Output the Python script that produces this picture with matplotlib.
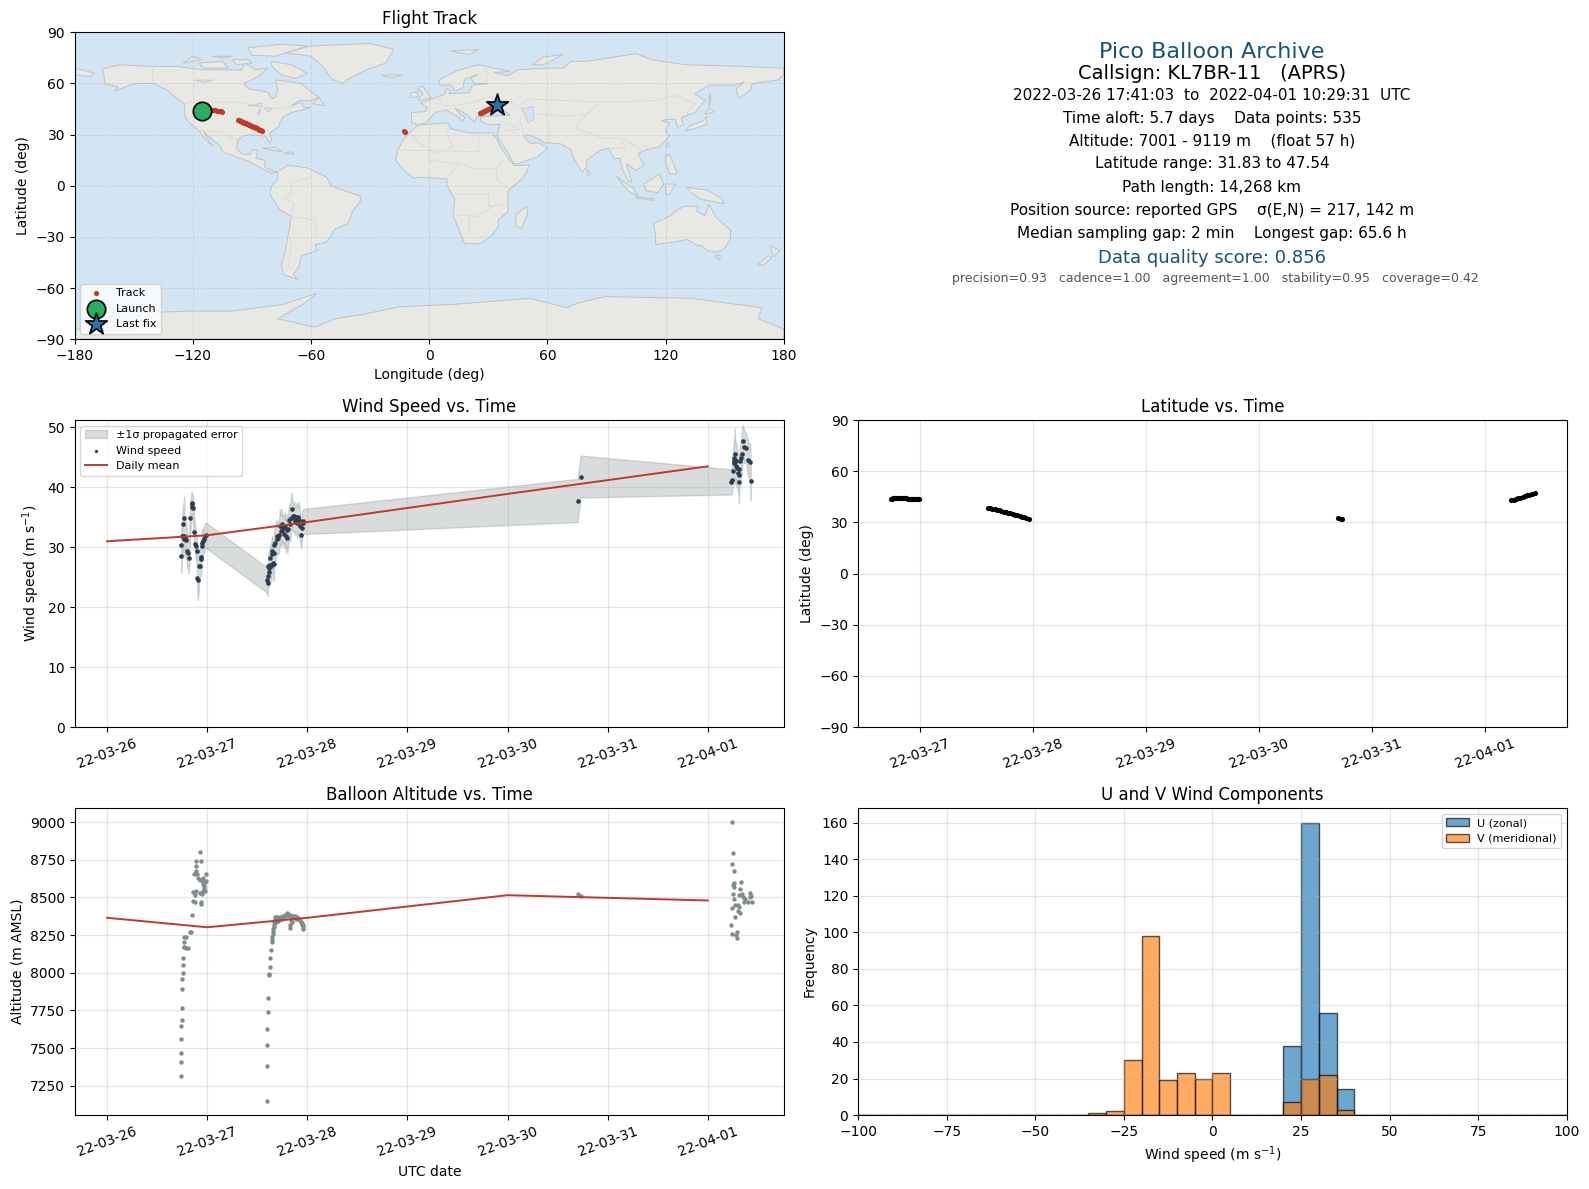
"""
Panel resumen de un vuelo pico balloon (KL7BR-11).
Valores leidos a ojo del grafico original.
"""

from datetime import datetime

import matplotlib
matplotlib.use("Agg")
import matplotlib.dates as mdates
import matplotlib.pyplot as plt
import numpy as np

T0 = mdates.date2num(datetime(2022, 3, 26))

# ---------------------------------------------------------------------------
# Datos: viento (dias desde 03-26, m/s, sigma)
# ---------------------------------------------------------------------------
wind_t1 = [.74, .74, .75, .76, .76, .765, .77, .773, .78, .79, .80, .81, .817, .83, .845, .85, .853,
           .858, .87, .883, .89, .897, .903, .907, .92, .925, .937, .94, .947, .953, .96, .968, .977, .987]
wind_v1 = [30.3, 28.6, 31.9, 33.8, 31.8, 31.3, 34.9, 31.8, 31.5, 31.2, 29.3, 29.0, 28.2, 34.8, 37.4, 36.7, 37.2,
           36.5, 32.6, 30.6, 30.2, 29.3, 24.9, 24.6, 26.9, 26.9, 28.3, 28.0, 30.7, 30.2, 31.0, 31.3, 31.8, 32.0]
wind_s1 = [3.0, 2.9, 3.1, 3.6, 3.0, 3.0, 3.6, 3.1, 2.9, 2.8, 2.7, 2.6, 2.6, 2.8, 1.9, 2.0, 1.6,
           2.0, 2.4, 2.3, 2.5, 2.6, 3.0, 3.4, 2.9, 2.6, 2.5, 2.4, 2.3, 2.3, 2.2, 2.2, 2.1, 2.1]

wind_t2 = [1.60, 1.603, 1.607, 1.61, 1.613, 1.617, 1.623, 1.63, 1.637, 1.643, 1.65, 1.657, 1.663, 1.667, 1.67,
           1.68, 1.693, 1.70, 1.71, 1.72, 1.727, 1.735, 1.743, 1.75, 1.76, 1.77, 1.777, 1.787, 1.793, 1.80,
           1.81, 1.82, 1.827, 1.835, 1.843, 1.853, 1.86, 1.87, 1.877, 1.887, 1.893, 1.90, 1.91, 1.92, 1.927,
           1.937, 1.943, 1.953, 1.96]
wind_v2 = [24.5, 24.1, 25.2, 26.8, 25.8, 26.6, 27.0, 28.2, 26.8, 28.8, 29.3, 27.3, 29.0, 27.2, 30.3,
           30.7, 31.8, 31.3, 31.5, 32.1, 33.5, 32.7, 33.8, 32.8, 33.2, 32.2, 33.5, 31.8, 32.9, 31.6,
           33.0, 34.6, 33.8, 34.9, 36.4, 35.2, 34.9, 35.2, 34.3, 35.0, 34.6, 34.0, 35.0, 34.6, 33.5,
           32.1, 33.2, 34.1, 34.3]
wind_s2 = [2.1, 2.2, 2.2, 2.3, 2.4, 2.4, 2.5, 2.5, 2.6, 2.6, 2.6, 2.7, 2.7, 2.8, 2.7,
           2.8, 2.8, 2.6, 2.6, 2.8, 2.9, 2.6, 2.6, 2.4, 2.4, 2.4, 2.5, 2.6, 2.6, 2.6,
           2.6, 2.8, 2.9, 3.1, 2.8, 2.5, 2.3, 2.4, 2.3, 2.4, 2.5, 2.5, 2.6, 2.4, 2.5,
           2.3, 2.2, 2.1, 2.1]

wind_t3 = [4.70, 4.73]
wind_v3 = [37.8, 41.8]
wind_s3 = [3.6, 3.5]

wind_t4 = [6.237, 6.24, 6.25, 6.263, 6.265, 6.267, 6.27, 6.275, 6.283, 6.285, 6.293, 6.30, 6.31, 6.312, 6.317,
           6.325, 6.333, 6.34, 6.35, 6.363, 6.383, 6.407, 6.423, 6.43]
wind_v4 = [40.9, 41.3, 42.8, 44.9, 44.4, 44.1, 45.6, 44.5, 43.6, 44.4, 43.2, 42.4, 42.0, 40.9, 43.0,
           44.4, 44.9, 45.5, 47.8, 46.8, 46.6, 44.5, 44.3, 41.0]
wind_s4 = [2.1, 2.2, 2.5, 3.2, 3.4, 3.6, 4.2, 3.5, 3.4, 3.0, 3.0, 3.2, 3.4, 3.6, 3.0,
           2.9, 3.0, 3.4, 2.6, 2.8, 2.4, 3.0, 3.0, 3.2]

daily_t = [0, 1, 2, 4, 6]
daily_wind = [31.0, 32.0, 34.2, 38.9, 43.5]
daily_alt = [8365, 8302, 8365, 8515, 8480]

# ---------------------------------------------------------------------------
# Altitud
# ---------------------------------------------------------------------------
alt_t1 = [.74, .74, .74, .74, .74, .75, .75, .75, .75, .76, .76, .76, .77, .773, .767, .787, .773, .793, .81,
          .827, .84, .85, .86, .877, .86, .887, .883, .943, .937, .927, .96, .977, .967, .927, .96, .987, .91,
          .90, .867, .893, .89, .893, .94, .99, .93, .963, .97, .955, .945, .975]
alt_v1 = [7316, 7409, 7469, 7562, 7649, 7689, 7769, 7889, 7956, 7996, 8049, 8096, 8173, 8207, 8236, 8240, 8173, 8167, 8167,
          8273, 8273, 8382, 8478, 8473, 8536, 8540, 8518, 8473, 8458, 8529, 8540, 8540, 8573, 8618, 8629, 8611, 8629,
          8658, 8658, 8673, 8707, 8742, 8742, 8656, 8802, 8590, 8560, 8600, 8525, 8600]

alt_t2 = [1.60, 1.60, 1.60, 1.60, 1.61, 1.61, 1.617, 1.617, 1.623, 1.63, 1.637, 1.643, 1.647, 1.65, 1.654, 1.657,
          1.66, 1.663, 1.667, 1.67, 1.673, 1.68, 1.685, 1.69, 1.693, 1.70, 1.705, 1.71, 1.72, 1.727, 1.735, 1.743,
          1.75, 1.76, 1.77, 1.777, 1.785, 1.793, 1.80, 1.81, 1.82, 1.827, 1.827, 1.83, 1.835, 1.843, 1.85, 1.86,
          1.87, 1.877, 1.885, 1.893, 1.90, 1.91, 1.92, 1.927, 1.935, 1.943, 1.95, 1.953, 1.96, 1.96]
alt_v2 = [7148, 7382, 7522, 7629, 7736, 7829, 7984, 7990, 8036, 8096, 8151, 8207, 8215, 8240, 8255, 8273,
          8290, 8307, 8320, 8340, 8355, 8373, 8340, 8370, 8350, 8373, 8345, 8360, 8350, 8370, 8365, 8373,
          8360, 8380, 8375, 8385, 8380, 8400, 8385, 8390, 8380, 8382, 8320, 8300, 8350, 8380, 8340, 8375,
          8370, 8375, 8360, 8370, 8365, 8360, 8355, 8350, 8340, 8330, 8315, 8305, 8290, 8320]

alt_t3 = [4.70, 4.73]
alt_v3 = [8520, 8508]

alt_t4 = [6.24, 6.25, 6.24, 6.26, 6.33, 6.26, 6.25, 6.26, 6.32, 6.25, 6.26, 6.317, 6.34, 6.35, 6.427, 6.427,
          6.433, 6.36, 6.377, 6.40, 6.44, 6.24, 6.277, 6.30, 6.317, 6.307, 6.323, 6.27, 6.23, 6.24, 6.29, 6.283, 6.29]
alt_v4 = [9000, 8793, 8720, 8673, 8602, 8593, 8580, 8567, 8553, 8520, 8489, 8516, 8522, 8504, 8527, 8500,
          8510, 8471, 8487, 8467, 8473, 8433, 8453, 8449, 8438, 8411, 8398, 8371, 8320, 8260, 8271, 8253, 8229]

# ---------------------------------------------------------------------------
# Latitud
# ---------------------------------------------------------------------------
lat_t1 = [.74, .75, .76, .77, .78, .79, .80, .81, .82, .83, .84, .85, .86, .87, .88, .89, .90, .91, .92, .93, .94, .95, .96, .97, .98, .99]
lat_v1 = [43.9, 44.0, 44.1, 44.2, 44.3, 44.4, 44.4, 44.4, 44.4, 44.3, 44.3, 44.2, 44.2, 44.1, 44.1, 44.0, 43.9, 43.8, 43.7, 43.6, 43.6, 43.5, 43.5, 43.5, 43.5, 43.5]
lat_t2 = [1.60, 1.62, 1.64, 1.66, 1.68, 1.70, 1.72, 1.74, 1.76, 1.78, 1.80, 1.82, 1.84, 1.86, 1.88, 1.90, 1.92, 1.94, 1.96]
lat_v2 = [38.7, 38.4, 38.1, 37.7, 37.4, 37.1, 36.8, 36.4, 36.1, 35.7, 35.4, 35.0, 34.6, 34.3, 33.9, 33.5, 33.1, 32.7, 32.3]
lat_t3 = [4.70, 4.72, 4.73]
lat_v3 = [32.4, 32.0, 31.83]
lat_t4 = [6.23, 6.25, 6.27, 6.29, 6.31, 6.33, 6.35, 6.37, 6.39, 6.41, 6.437]
lat_v4 = [43.0, 43.4, 43.8, 44.2, 44.6, 45.0, 45.4, 45.9, 46.4, 46.9, 47.54]

# ---------------------------------------------------------------------------
# Traza en el mapa
# ---------------------------------------------------------------------------
track_lon = [-115.2, -114, -113, -112, -111, -110, -109, -108, -107, -106, -105.5,
             -97, -96.5, -96, -95.5, -95, -94.5, -94, -93.5, -93, -92.5, -92, -91.5, -91, -90.5, -90, -89.5,
             -89, -88.5, -88, -87.5, -87, -86.5, -86, -85.5, -85,
             -12.8, -12.5,
             26, 26.5, 27, 27.5, 28, 28.5, 29, 29.5, 30, 30.5, 31, 31.5, 32, 32.5, 33, 33.7, 34.5]
track_lat = [43.6, 44.0, 44.3, 44.4, 44.4, 44.4, 44.3, 44.0, 43.8, 43.6, 43.5,
             38.6, 38.3, 38.1, 37.8, 37.5, 37.3, 37.0, 36.8, 36.6, 36.3, 36.0, 35.8, 35.5, 35.2, 35.0, 34.7,
             34.5, 34.2, 33.9, 33.6, 33.3, 33.0, 32.8, 32.5, 32.2,
             32.1, 31.83,
             42.5, 42.8, 43.1, 43.4, 43.7, 44.0, 44.3, 44.6, 45.0, 45.3, 45.6, 45.9, 46.2, 46.5, 46.7, 47.1, 47.54]
launch = (-115.2, 43.6)
last_fix = (34.5, 47.54)

# ---------------------------------------------------------------------------
# Histograma
# ---------------------------------------------------------------------------
bin_edges = np.arange(-100, 105, 5)
u_left = [20, 25, 30, 35]
u_count = [38, 160, 56, 14]
v_left = [-35, -30, -25, -20, -15, -10, -5, 0, 20, 25, 30, 35]
v_count = [1, 2, 30, 98, 19, 23, 20, 23, 7, 20, 22, 3]

# ---------------------------------------------------------------------------
# Mapa del mundo (contornos gruesos, lon/lat)
# ---------------------------------------------------------------------------
land_polys = [
    # Norteamerica
    [(-166, 68.5), (-157, 71), (-140, 70), (-128, 70), (-115, 68), (-108, 68), (-95, 68), (-94, 72), (-88, 68),
     (-82, 69), (-87, 64), (-94, 60), (-92, 57), (-82, 55), (-80, 51), (-78, 52), (-77, 56), (-78, 62), (-70, 61),
     (-65, 60), (-60, 55), (-56, 52), (-60, 50), (-66, 50), (-70, 47), (-65, 49), (-64, 46), (-60, 46), (-66, 44),
     (-70, 43), (-74, 40.5), (-76, 37), (-76, 35), (-81, 31), (-80, 27), (-81, 25), (-83, 29), (-90, 30),
     (-94, 29.5), (-97, 27), (-98, 22), (-95, 18.5), (-91, 18.5), (-90, 21), (-87, 21), (-88, 16), (-83.5, 15),
     (-83.5, 11), (-80, 9), (-77, 8), (-80, 7.5), (-85, 10), (-92, 14.5), (-96, 16), (-105, 20), (-106, 23),
     (-112.5, 29.5), (-114.5, 31.5), (-110, 23), (-115, 29), (-117, 32.5), (-122, 37), (-124.5, 42), (-124, 48),
     (-128, 51), (-133, 56), (-140, 60), (-148, 60), (-152, 59), (-160, 55.5), (-158, 58), (-165, 60), (-165, 64)],
    # Groenlandia e islas articas
    [(-73, 78), (-60, 82), (-30, 83.5), (-18, 80), (-22, 72), (-32, 68), (-42, 62), (-44, 60), (-50, 63), (-54, 70), (-60, 76)],
    [(-80, 73), (-70, 71), (-62, 66), (-68, 63), (-75, 65), (-80, 70)],
    [(-90, 76.5), (-78, 76), (-62, 82), (-75, 83), (-92, 81)],
    [(-117, 72), (-105, 73), (-102, 69), (-115, 69)],
    [(-125, 72), (-116, 74), (-120, 76)],
    [(-100, 74), (-92, 74), (-90, 72), (-98, 71)],
    [(-110, 76), (-100, 76), (-105, 75)],
    [(-59, 48), (-53, 47), (-56, 51.5)],
    [(-85, 22), (-75, 20), (-78, 22.5)],
    [(-74, 19), (-68.5, 18.5), (-70, 20)],
    # Sudamerica
    [(-77, 8), (-72, 12), (-62, 10.5), (-52, 5), (-50, 0), (-44, -2.5), (-35, -6), (-35, -9), (-39, -15), (-41, -22),
     (-48, -25.5), (-52, -33), (-58, -34.5), (-57, -38), (-65, -41), (-66, -47), (-69, -52), (-67, -55), (-74, -52),
     (-75, -46), (-73, -38), (-70, -18), (-76, -14), (-81, -5), (-80, 0), (-77, 4)],
    # Africa
    [(-6, 35.5), (10, 37), (11, 33.5), (20, 31), (32, 31), (34, 28), (37, 21), (43, 12), (51, 12), (48, 5), (40, -3),
     (40, -15), (35, -20), (35, -24), (32, -29), (26, -34), (18, -34), (12, -17), (13, -8), (9, 0), (9, 4), (-4, 5),
     (-8, 4.5), (-13, 9), (-17, 14.7), (-16, 21), (-13, 27.5), (-9, 32)],
    [(49.5, -12), (50, -16), (47, -25), (44, -24), (44, -17)],
    # Eurasia
    [(-9, 37), (-9, 43), (-2, 43.5), (-1, 46), (-4.5, 48.5), (2, 51), (8, 54), (8.5, 57), (11, 56), (10, 54), (20, 54.5),
     (22, 59), (30, 60), (23, 60), (21, 63), (25, 65.5), (18, 62.5), (17, 57.5), (13, 55.5), (11, 59), (5, 59), (5, 62),
     (14, 67.5), (25, 71), (41, 67), (33, 66.5), (40, 64.5), (45, 68), (60, 69), (68, 69), (72, 73), (80, 73),
     (105, 77.5), (113, 74), (130, 71), (160, 70), (180, 69), (180, 65), (177, 62), (164, 60), (163, 56), (157, 51),
     (156, 57), (160, 61), (155, 59), (142, 59), (135, 54), (140, 50), (135, 43), (128, 40), (129, 35.5), (126, 34.5),
     (125, 39), (121, 39), (118, 38), (122, 37), (120, 32), (122, 29), (117, 23), (110, 21), (106, 19), (109, 12),
     (105, 9), (100, 13), (103, 2), (101, 3), (98, 10), (97, 16), (94, 16), (91, 22), (87, 21), (80, 15), (80, 11),
     (77.5, 8), (73, 17), (72, 21), (67, 24.5), (58, 25.5), (56.5, 27), (50, 30), (48, 29), (51, 25), (56, 25), (60, 22),
     (55, 17), (45, 13), (43, 13), (39, 21), (35, 28), (34.5, 31), (36, 36), (30, 36), (26, 38), (26, 40.5), (41, 41.5),
     (37, 45), (33, 45), (33, 46), (29, 45), (28, 41), (24, 40.5), (23, 37), (19, 42), (13, 45.5), (16, 41.5), (18.5, 40),
     (16.5, 38), (15.5, 40), (12, 42), (8.5, 44.5), (3, 43), (0, 39), (-2, 36.7), (-5.5, 36)],
    [(-180, 65), (-172, 64), (-170, 66), (-180, 69)],
    [(-5, 50), (1, 51.5), (-2, 56), (-3, 58.5), (-6, 57), (-3, 54), (-5, 52)],
    [(-10, 52), (-6, 52), (-6, 55), (-9, 54.5)],
    [(-24, 65), (-14, 65), (-18, 63.5), (-22, 64)],
    [(11, 79), (25, 80), (20, 77)],
    [(52, 71), (58, 71), (68, 77), (58, 75.5)],
    # Asia oriental e insular
    [(130, 32), (136, 34), (141, 36), (141, 41), (139, 38), (132, 35)],
    [(140, 42), (145, 43.5), (142, 45.5)],
    [(142, 46), (143, 50), (142.5, 54), (142, 50)],
    [(120, 23), (121, 25), (122, 24.5), (121, 22)],
    [(120, 18), (122, 18), (124, 13), (126, 7), (122, 7), (120, 14)],
    [(109, 1), (117, 7), (119, 1), (116, -4), (110, -3)],
    [(95, 5.5), (104, -2), (106, -6), (101, -3)],
    [(105, -6.5), (114, -7.5), (114, -8.5), (106, -7.5)],
    [(120, 1), (125, 1), (122, -5), (120, -5)],
    [(131, -1), (141, -2.5), (148, -7), (150, -10.5), (143, -9), (138, -8), (133, -4)],
    [(80, 9.5), (82, 7), (80.5, 6)],
    # Oceania
    [(114, -22), (122, -18), (126, -14), (130, -12), (136, -12), (136, -15), (140, -17.5), (142, -11), (146, -19),
     (153, -26), (153, -31), (150, -37), (146, -39), (141, -38), (138, -35), (136, -35), (131, -31.5), (124, -33),
     (115, -34.5), (115, -30)],
    [(145, -41), (148, -41), (147, -43.5)],
    [(173, -35), (178, -38), (175, -41.5), (174, -39)],
    [(172, -41), (174, -42), (170, -46.5), (167, -46)],
    # Antartida
    [(-180, -84), (-152, -85), (-146, -74.5), (-121, -73.5), (-100, -73.5), (-74, -69.5), (-57, -63), (-62, -68), (-77, -78),
     (-58, -83), (-48, -78), (-34, -75.5), (-15, -71), (13, -69.5), (51, -66), (70, -71.5), (75, -69), (89, -65),
     (133, -66), (169, -71.5), (167, -78), (180, -84), (180, -90), (-180, -90)],
]
lakes = [
    [(47, 45), (53, 46.5), (53, 39), (50, 37), (49, 41)],
    [(-92, 47), (-85, 48.5), (-85, 46.5)],
    [(-87.5, 42), (-85.5, 45.5), (-86, 42)],
    [(-84, 46), (-80, 45), (-82, 43)],
    [(-119, 62), (-110, 62), (-114, 60.5)],
]
borders = [
    [(-123, 49), (-95, 49), (-83, 46), (-75, 45), (-67, 47)],
    [(-117, 32.5), (-106, 31.5), (-97, 26)],
    [(-141, 70), (-141, 60)],
    [(-70, -18), (-58, -20), (-57, -30)],
    [(-70, -18), (-69, -10), (-74, -7), (-70, -4), (-70, 2), (-60, 5)],
    [(-70, -33), (-72, -50)],
    [(-17, 21), (25, 20), (25, 31)],
    [(10, 37), (9, 30), (12, 23), (4, 19), (-5, 25), (-9, 30)],
    [(0, 15), (15, 13), (24, 10), (34, 10), (37, 15)],
    [(9, 4), (15, 13)],
    [(12, -5), (30, -5)],
    [(12, -17), (24, -18), (34, -11)],
    [(20, -28), (20, -18)],
    [(30, -5), (30, -12), (40, -11)],
    [(34, 10), (34, 4), (41, -2)],
    [(5, 51), (7, 47), (13, 47), (22, 49), (30, 52), (40, 50), (48, 45)],
    [(28, 70), (30, 60)],
    [(53, 42), (70, 41), (80, 42), (87, 49), (50, 51), (47, 48)],
    [(87, 49), (115, 50), (125, 53), (135, 48), (131, 43)],
    [(80, 42), (74, 34), (88, 28), (97, 28), (100, 22), (92, 22)],
    [(61, 36), (61, 25)],
    [(46, 39), (48, 30)],
    [(35, 32), (46, 33), (39, 37)],
    [(98, 28), (108, 21)],
]

# ---------------------------------------------------------------------------
# Texto del panel de informacion
# ---------------------------------------------------------------------------
info_lines = [
    "Pico Balloon Archive",
    "Callsign: KL7BR-11   (APRS)",
    "2022-03-26 17:41:03  to  2022-04-01 10:29:31  UTC",
    "Time aloft: 5.7 days    Data points: 535",
    "Altitude: 7001 - 9119 m    (float 57 h)",
    "Latitude range: 31.83 to 47.54",
    "Path length: 14,268 km",
    "Position source: reported GPS    σ(E,N) = 217, 142 m",
    "Median sampling gap: 2 min    Longest gap: 65.6 h",
    "Data quality score: 0.856",
    "precision=0.93   cadence=1.00   agreement=1.00   stability=0.95   coverage=0.42",
]
info_x = [.7627, .7627, .7627, .7627, .7627, .7627, .7627, .7627, .7627, .7627, .7651]
info_y = [.9566, .9379, .9200, .9004, .8817, .8621, .8425, .8229, .8033, .7828, .7658]
info_size = [16, 14, 11, 11, 11, 11, 11, 11, 11, 13, 9]
info_color = ["#1a5276", "black", "black", "black", "black", "black", "black", "black", "black", "#1a5276", "#555555"]

# ---------------------------------------------------------------------------
# Figura
# ---------------------------------------------------------------------------
RED = "#c0392b"
GRID = dict(color="#b0b0b0", linewidth=0.9, alpha=0.32)

fig = plt.figure(figsize=(15.89, 11.89), dpi=100)
ax_map = fig.add_axes([.0471, .7147, .4461, .2581])
ax_wind = fig.add_axes([.0471, .3885, .4461, .2581])
ax_lat = fig.add_axes([.5400, .3885, .4461, .2581])
ax_alt = fig.add_axes([.0471, .0622, .4461, .2581])
ax_hist = fig.add_axes([.5400, .0622, .4461, .2581])

# Mapa
ax_map.set_facecolor("#d3e5f2")
for poly in land_polys:
    ax_map.fill(*zip(*poly), facecolor="#e8e8e4", edgecolor="#bcc4c8", linewidth=0.7, zorder=1)
for poly in lakes:
    ax_map.fill(*zip(*poly), facecolor="#d3e5f2", edgecolor="#bcc4c8", linewidth=0.5, zorder=1.1)
for line in borders:
    ax_map.plot(*zip(*line), color="#d8dad8", linewidth=0.6, zorder=1.2)
ax_map.grid(True, color="#a0a0a0", linewidth=0.5, alpha=0.35, linestyle="--", zorder=1.5)
ax_map.scatter(track_lon, track_lat, s=14, color=RED, linewidths=0, zorder=3, label="Track")
ax_map.scatter(*launch, s=175, color="#27ae60", edgecolors="black", linewidths=1.2, zorder=4, label="Launch")
ax_map.scatter(*last_fix, s=270, marker="*", color="#2176ae", edgecolors="black", linewidths=1.2, zorder=5, label="Last fix")
ax_map.set_xlim(-180, 180)
ax_map.set_ylim(-90, 90)
ax_map.set_xticks(np.arange(-180, 181, 60))
ax_map.set_yticks(np.arange(-90, 91, 30))
ax_map.set_xlabel("Longitude (deg)")
ax_map.set_ylabel("Latitude (deg)")
ax_map.set_title("Flight Track")
ax_map.legend(loc="lower left", fontsize=8)

# Viento
wind_t = np.array(wind_t1 + wind_t2 + wind_t3 + wind_t4) + T0
wind_v = np.array(wind_v1 + wind_v2 + wind_v3 + wind_v4)
wind_s = np.array(wind_s1 + wind_s2 + wind_s3 + wind_s4)
ax_wind.fill_between(wind_t, wind_v - wind_s, wind_v + wind_s, color="#7f8c8d", alpha=0.3, label="±1σ propagated error")
ax_wind.scatter(wind_t, wind_v, s=11, color="#2c3e50", linewidths=0, zorder=3, label="Wind speed")
ax_wind.plot(np.array(daily_t) + T0, daily_wind, color=RED, linewidth=1.4, zorder=4, label="Daily mean")
ax_wind.set_xlim(T0 - 0.322, T0 + 6.759)
ax_wind.set_ylim(0, 51.2)
ax_wind.set_ylabel("Wind speed (m s$^{-1}$)")
ax_wind.set_title("Wind Speed vs. Time")
ax_wind.legend(loc="upper left", fontsize=8, markerscale=0.7)

# Latitud
lat_t = np.array(lat_t1 + lat_t2 + lat_t3 + lat_t4) + T0
lat_v = lat_v1 + lat_v2 + lat_v3 + lat_v4
ax_lat.scatter(lat_t, lat_v, s=14, color="black", linewidths=0, zorder=3)
ax_lat.set_xlim(T0 + 0.452, T0 + 6.722)
ax_lat.set_ylim(-90, 90)
ax_lat.set_yticks(np.arange(-90, 91, 30))
ax_lat.set_ylabel("Latitude (deg)")
ax_lat.set_title("Latitude vs. Time")

# Altitud
alt_t = np.array(alt_t1 + alt_t2 + alt_t3 + alt_t4) + T0
alt_v = alt_v1 + alt_v2 + alt_v3 + alt_v4
ax_alt.scatter(alt_t, alt_v, s=10, color="#7f8c8d", linewidths=0, zorder=3)
ax_alt.plot(np.array(daily_t) + T0, daily_alt, color=RED, linewidth=1.4, zorder=4)
ax_alt.set_xlim(T0 - 0.322, T0 + 6.759)
ax_alt.set_ylim(7055, 9093)
ax_alt.set_yticks(np.arange(7250, 9001, 250))
ax_alt.set_xlabel("UTC date")
ax_alt.set_ylabel("Altitude (m AMSL)")
ax_alt.set_title("Balloon Altitude vs. Time")

for ax in (ax_wind, ax_lat, ax_alt):
    ax.xaxis.set_major_locator(mdates.DayLocator())
    ax.xaxis.set_major_formatter(mdates.DateFormatter("%y-%m-%d"))
    ax.tick_params(axis="x", labelrotation=20)
    ax.grid(True, **GRID)

# Histograma
ax_hist.hist(np.array(u_left) + 2.5, bins=bin_edges, weights=u_count, alpha=0.65, color="C0", edgecolor="black", label="U (zonal)")
ax_hist.hist(np.array(v_left) + 2.5, bins=bin_edges, weights=v_count, alpha=0.65, color="C1", edgecolor="black", label="V (meridional)")
ax_hist.grid(True, **GRID)
ax_hist.set_xlim(-100, 100)
ax_hist.set_ylim(0, 168)
ax_hist.set_xlabel("Wind speed (m s$^{-1}$)")
ax_hist.set_ylabel("Frequency")
ax_hist.set_title("U and V Wind Components")
ax_hist.legend(loc="upper right", fontsize=8)

# Panel de texto
for txt, x, y, size, col in zip(info_lines, info_x, info_y, info_size, info_color):
    fig.text(x, y, txt, ha="center", va="center", fontsize=size, color=col)

fig.savefig("out.png", dpi=100)
